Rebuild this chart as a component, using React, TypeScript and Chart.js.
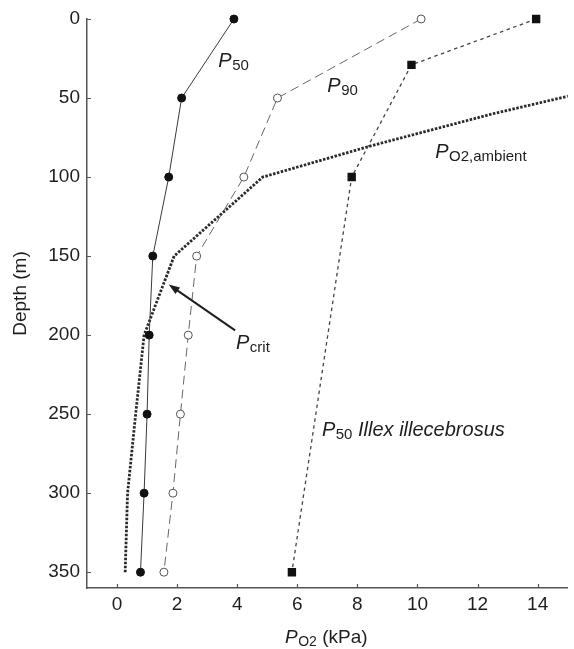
import React, { useEffect, useRef } from 'react';
import { Chart, registerables } from 'chart.js';

Chart.register(...registerables);

// ---- data ----
const depths = [0, 50, 100, 150, 200, 250, 300, 350];
const p50Values = [3.89, 2.15, 1.72, 1.19, 1.07, 1.0, 0.9, 0.78];
const p90Values = [10.12, 5.34, 4.22, 2.65, 2.37, 2.11, 1.86, 1.56];
const illexDepths = [0, 29, 100, 350];
const illexP50Values = [13.95, 9.8, 7.81, 5.82];
const ambientDepths = [350, 300, 250, 200, 150, 100, 97, 80, 60, 40];
const ambientValues = [0.27, 0.35, 0.62, 0.9, 1.9, 4.85, 5.4, 8.5, 12.5, 17];
const xTicks = [0, 2, 4, 6, 8, 10, 12, 14];
const yTicks = [0, 50, 100, 150, 200, 250, 300, 350];

const FONT = '"Liberation Sans", Arial, Helvetica, sans-serif';
const TEXT = '#1e1e1e';

function pts(xs: number[], ys: number[]) {
  return xs.map((v, i) => ({ x: v, y: ys[i] }));
}

function drawSubLabel(
  ctx: CanvasRenderingContext2D,
  px: number,
  py: number,
  sub: string,
  rest = '',
  restItalic = false,
  mainSize = 20,
  subSize = 15
) {
  ctx.textAlign = 'left';
  ctx.textBaseline = 'alphabetic';
  ctx.fillStyle = TEXT;
  ctx.font = `italic ${mainSize}px ${FONT}`;
  ctx.fillText('P', px, py);
  let cx = px + ctx.measureText('P').width + 0.5;
  ctx.font = `${subSize}px ${FONT}`;
  ctx.fillText(sub, cx, py + 3);
  cx += ctx.measureText(sub).width;
  if (rest) {
    ctx.font = `${restItalic ? 'italic ' : ''}${mainSize}px ${FONT}`;
    ctx.fillText(rest, cx, py);
  }
}

const annotPlugin = {
  id: 'annots',
  afterDatasetsDraw(chart: any) {
    const { ctx, scales } = chart;
    const x = scales.x;
    const y = scales.y;
    ctx.save();
    // inward tick marks
    ctx.strokeStyle = '#555';
    ctx.lineWidth = 1.2;
    ctx.beginPath();
    xTicks.forEach((v) => {
      const px = Math.round(x.getPixelForValue(v)) + 0.5;
      ctx.moveTo(px, y.bottom);
      ctx.lineTo(px, y.bottom - 4);
    });
    yTicks.forEach((v) => {
      const py = Math.round(y.getPixelForValue(v)) + 0.5;
      ctx.moveTo(x.left, py);
      ctx.lineTo(x.left + 4, py);
    });
    ctx.stroke();

    const X = (v: number) => x.getPixelForValue(v);
    const Y = (v: number) => y.getPixelForValue(v);

    // in-plot labels
    drawSubLabel(ctx, X(3.37), Y(30.3), '50');
    drawSubLabel(ctx, X(7.0), Y(46.1), '90');
    drawSubLabel(ctx, X(10.59), Y(87.8), 'O2,ambient');
    drawSubLabel(ctx, X(3.96), Y(209), 'crit');
    drawSubLabel(ctx, X(6.82), Y(264), '50', ' Illex illecebrosus', true);

    // Pcrit arrow
    const tx = X(3.93), ty = Y(197);
    const hx = X(1.72), hy = Y(168);
    const ang = Math.atan2(hy - ty, hx - tx);
    ctx.strokeStyle = '#1e1e1e';
    ctx.fillStyle = '#1e1e1e';
    ctx.lineWidth = 2;
    ctx.beginPath();
    ctx.moveTo(tx, ty);
    ctx.lineTo(hx - 6 * Math.cos(ang), hy - 6 * Math.sin(ang));
    ctx.stroke();
    ctx.beginPath();
    ctx.moveTo(hx, hy);
    ctx.lineTo(hx - 11 * Math.cos(ang) + 4 * Math.sin(ang), hy - 11 * Math.sin(ang) - 4 * Math.cos(ang));
    ctx.lineTo(hx - 11 * Math.cos(ang) - 4 * Math.sin(ang), hy - 11 * Math.sin(ang) + 4 * Math.cos(ang));
    ctx.closePath();
    ctx.fill();

    // axis titles
    ctx.save();
    ctx.translate(21, (y.top + y.bottom) / 2 - 10);
    ctx.rotate(-Math.PI / 2);
    ctx.font = `19px ${FONT}`;
    ctx.textAlign = 'center';
    ctx.textBaseline = 'middle';
    ctx.fillStyle = TEXT;
    ctx.fillText('Depth (m)', 0, 0);
    ctx.restore();

    drawSubLabel(ctx, 285, 643, 'O2', ' (kPa)', false, 19, 14);
    ctx.restore();
  },
};

export default function App() {
  const ref = useRef<HTMLCanvasElement | null>(null);
  useEffect(() => {
    if (!ref.current) return;
    const chart = new Chart(ref.current, {
      type: 'scatter',
      data: {
        datasets: [
          {
            label: 'P50',
            data: pts(p50Values, depths),
            showLine: true,
            borderColor: '#3a3a3a',
            borderWidth: 1,
            backgroundColor: '#111',
            pointBorderColor: '#111',
            pointRadius: 4,
            pointStyle: 'circle',
            clip: false,
          },
          {
            label: 'P90',
            data: pts(p90Values, depths),
            showLine: true,
            borderColor: '#666',
            borderWidth: 1,
            borderDash: [9, 5],
            backgroundColor: '#fff',
            pointBorderColor: '#555',
            pointBorderWidth: 1,
            pointRadius: 4,
            clip: false,
          },
          {
            label: 'Illex',
            data: pts(illexP50Values, illexDepths),
            showLine: true,
            borderColor: '#444',
            borderWidth: 1.3,
            borderDash: [3.5, 3.5],
            backgroundColor: '#111',
            pointBorderColor: '#111',
            pointStyle: 'rect',
            pointRadius: 5,
            clip: false,
          },
          {
            label: 'ambient',
            data: pts(ambientValues, ambientDepths),
            showLine: true,
            borderColor: '#2a2a2a',
            borderWidth: 2.8,
            borderDash: [2.5, 1.5],
            pointRadius: 0,
          },
        ],
      },
      options: {
        responsive: false,
        animation: false,
        events: [],
        layout: { padding: { top: 19, right: 0, left: 0, bottom: 0 } },
        plugins: {
          legend: { display: false },
          tooltip: { enabled: false },
        },
        scales: {
          x: {
            type: 'linear',
            min: -1,
            max: 15,
            grid: { display: false, drawTicks: false, tickLength: 0 },
            border: { display: true, color: '#555', width: 1.5 },
            ticks: { font: { family: FONT, size: 19 }, color: TEXT, padding: 5 },
            afterBuildTicks: (s: any) => {
              s.ticks = xTicks.map((v) => ({ value: v }));
            },
            afterFit: (s: any) => {
              s.height = 61;
              s.paddingLeft = 0;
              s.paddingRight = 0;
            },
          },
          y: {
            type: 'linear',
            reverse: true,
            min: 0,
            max: 360,
            grid: { display: false, drawTicks: false, tickLength: 0 },
            border: { display: true, color: '#555', width: 1.5 },
            ticks: { font: { family: FONT, size: 19 }, color: TEXT, padding: 7 },
            afterBuildTicks: (s: any) => {
              s.ticks = yTicks.map((v) => ({ value: v }));
            },
            afterFit: (s: any) => {
              s.width = 87;
              s.paddingTop = 0;
              s.paddingBottom = 0;
            },
          },
        },
      },
      plugins: [annotPlugin],
    } as any);
    return () => chart.destroy();
  }, []);
  return (
    <div style={{ position: 'absolute', left: 0, top: 0, width: 574, height: 649, background: '#fff' }}>
      <canvas ref={ref} width={574} height={649} style={{ display: 'block' }} />
    </div>
  );
}
